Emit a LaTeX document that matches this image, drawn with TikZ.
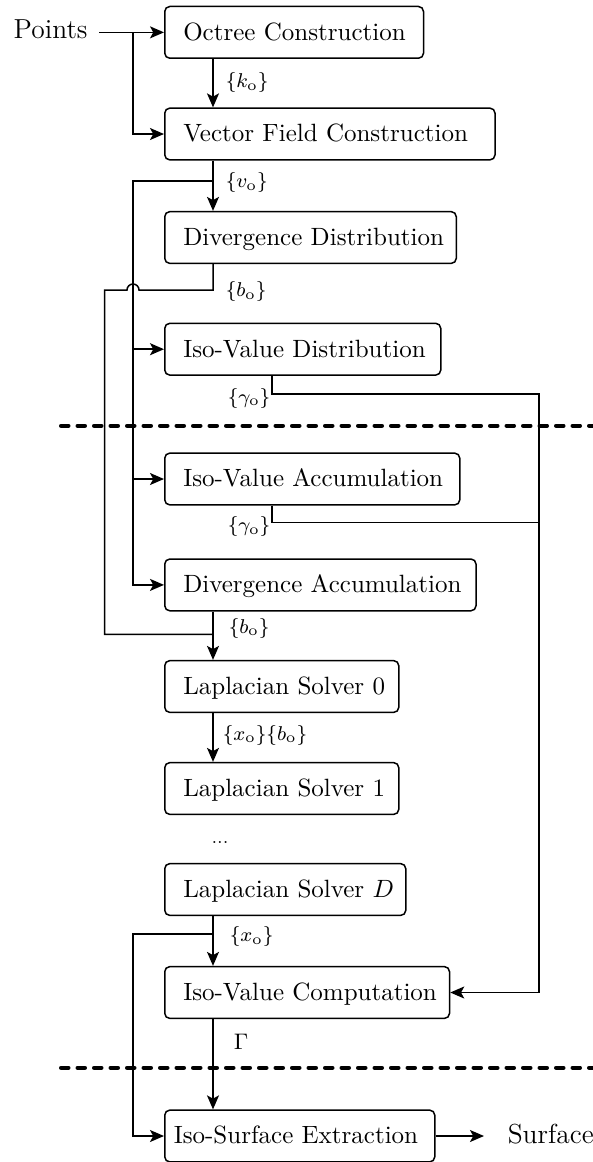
\documentclass[tikz,border=0pt]{standalone}
\usetikzlibrary{arrows.meta,calc}
\newcommand{\bxt}[2]{\makebox[#1][l]{\hspace*{7.4pt}#2}}
\begin{document}
\begin{tikzpicture}[x=0.4pt,y=-0.4pt,
  line width=0.6pt,
  arr/.style={-{Stealth[length=5.6pt,width=4.8pt,inset=1.3pt]}},
  blk/.style={draw, rounded corners=2pt, anchor=west, inner xsep=0pt, inner ysep=0pt,
    minimum height=20.7pt, text height=6.9pt, text depth=0.6pt},
  lbl/.style={font=\footnotesize, inner sep=0pt, anchor=west},
  big/.style={font=\fontsize{11}{13}\selectfont, inner ysep=0pt, anchor=base west},
  sep/.style={line width=1.6pt, dash pattern=on 3pt off 3.6pt, line cap=round}]
\useasboundingbox (0,0) rectangle (593,1162);

% blocks
\node[blk] (oct) at (164,32.35) {\bxt{103.5pt}{Octree Construction}};
\node[blk] (vf)  at (164,134)   {\bxt{132.1pt}{Vector Field Construction}};
\node[blk] (dd)  at (164,237.5) {\bxt{116.6pt}{Divergence Distribution}};
\node[blk] (ivd) at (164,349.2) {\bxt{110.4pt}{Iso-Value Distribution}};
\node[blk] (iva) at (164,479)   {\bxt{118pt}{Iso-Value Accumulation}};
\node[blk] (da)  at (164,584.9) {\bxt{124.5pt}{Divergence Accumulation}};
\node[blk] (ls0) at (164,686.5) {\bxt{93.6pt}{Laplacian Solver 0}};
\node[blk] (ls1) at (164,788.5) {\bxt{93.6pt}{Laplacian Solver 1}};
\node[blk] (lsd) at (164,889.5) {\bxt{96.4pt}{Laplacian Solver $D$}};
\node[blk] (ivc) at (164,992.5) {\bxt{113.9pt}{Iso-Value Computation}};
\node[blk] (ise) at (164,1136)  {\makebox[108pt][l]{\hspace*{3.6pt}Iso-Surface Extraction}};

% input / output
\node[big, inner xsep=4.4pt] (pts) at (2,38.3) {Points};
\node[big, inner xsep=9.2pt] (surf) at (484,1143) {Surface};

% bus coordinates
\coordinate (bA) at (133,0);
\coordinate (bB) at (104.6,0);
\coordinate (bX) at (213,0);
\coordinate (bG) at (272,0);
\coordinate (jv) at (213,181);
\coordinate (jb) at (213,290);
\coordinate (jb2) at (213,634.3);
\coordinate (jg1) at (538.8,394);
\coordinate (jg2) at (538.8,522.7);
\coordinate (jx) at (213,934);

% separators
\draw[sep] (61,425.7) -- (593,425.7);
\draw[sep] (61,1067.7) -- (593,1067.7);

% connectors
\draw[arr] (pts.east |- oct.west) -- (oct.west);
\draw[arr] (bA |- oct.west) |- (vf.west);
\draw[arr] (oct.south -| bX) -- (vf.north -| bX);
\node[lbl] (lk) at (225,82.7) {$\{k_\mathrm{o}\}$};
\draw[arr] (vf.south -| bX) -- (dd.north -| bX);
\node[lbl] (lv) at (225,182.7) {$\{v_\mathrm{o}\}$};

\draw[arr] (jv) -| (bA |- da.west) -- (da.west);
\draw[arr] (bA |- ivd.west) -- (ivd.west);
\draw[arr] (bA |- iva.west) -- (iva.west);

\draw (dd.south -| bX) -- (jb) -- ($(bA |- jb)+(6,0)$) arc[start angle=0,end angle=180,radius=2.4pt]
  -- (bB |- jb) -- (bB |- jb2) -- (jb2);
\node[lbl] (lb1) at (225,291.7) {$\{b_\mathrm{o}\}$};

\draw[arr] (ivd.south -| bG) |- (jg1) |- (ivc.east);
\node[lbl] (lg1) at (227,398) {$\{\gamma_\mathrm{o}\}$};
\draw (iva.south -| bG) |- (jg2);
\node[lbl] (lg2) at (227,526.7) {$\{\gamma_\mathrm{o}\}$};

\draw[arr] (da.south -| bX) -- (ls0.north -| bX);
\node[lbl] (lb2) at (228,628.3) {$\{b_\mathrm{o}\}$};

\draw[arr] (ls0.south -| bX) -- (ls1.north -| bX);
\node[lbl] (lxb) at (222,735) {$\{x_\mathrm{o}\}\{b_\mathrm{o}\}$};
\node[font=\scriptsize, inner sep=0pt, anchor=base] (dots) at (220,843) {...};

\draw[arr] (lsd.south -| bX) -- (ivc.north -| bX);
\node[lbl] (lx) at (229,936.7) {$\{x_\mathrm{o}\}$};
\draw[arr] (jx) -| (bA |- ise.west) -- (ise.west);

\draw[arr] (ivc.south -| bX) -- (ise.north -| bX);
\node[lbl, font=\small] (lG) at (233,1041.7) {$\Gamma$};

\draw[arr] (ise.east) -- (ise.east -| surf.west);
\end{tikzpicture}
\end{document}
